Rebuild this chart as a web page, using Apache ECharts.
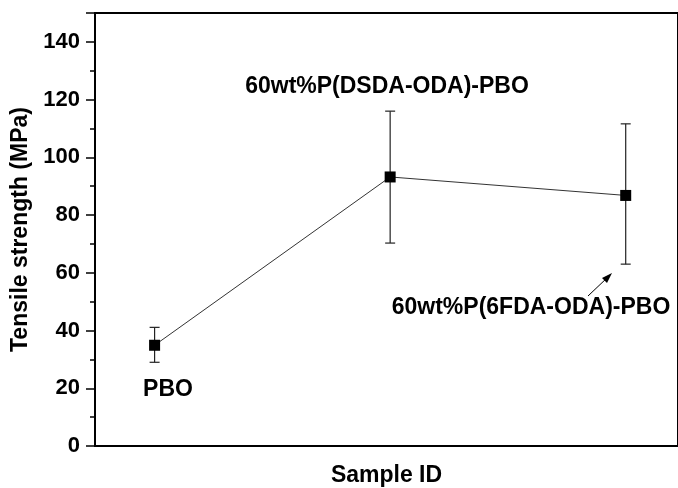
<!DOCTYPE html>
<html>
<head>
<meta charset="utf-8">
<script src="https://cdn.jsdelivr.net/npm/echarts@6/dist/echarts.min.js"></script>
<style>html,body{margin:0;padding:0;background:#fff}#c{width:678px;height:488px}</style>
</head>
<body>
<div id="c"></div>
<script>
var categories = ['PBO', '60wt%P(DSDA-ODA)-PBO', '60wt%P(6FDA-ODA)-PBO'];
var xPos = [1, 2, 3];
var strength = [34.9, 93.2, 86.8];
var errLow = [29.0, 70.3, 63.0];
var errHigh = [41.1, 116.0, 111.6];
var yTicks = [0, 20, 40, 60, 80, 100, 120, 140];

var FONT = 'Liberation Sans, Arial, sans-serif';
var chart = echarts.init(document.getElementById('c'));

var lineData = xPos.map(function (x, i) { return [x, strength[i]]; });
var errData = xPos.map(function (x, i) { return [x, errLow[i], errHigh[i]]; });

chart.setOption({
  animation: false,
  backgroundColor: '#fff',
  grid: { left: 95, right: 0, top: 13, bottom: 42, containLabel: false, outerBoundsMode: 'none',
          show: true, borderColor: '#000', borderWidth: 2, backgroundColor: 'transparent' },
  xAxis: {
    type: 'value', min: 0.747, max: 3.222,
    axisLine: { show: true, onZero: false, lineStyle: { color: '#000', width: 2 } },
    axisTick: { show: false }, axisLabel: { show: false }, splitLine: { show: false },
    name: 'Sample ID', nameLocation: 'middle', nameGap: 18,
    nameTextStyle: { fontFamily: FONT, fontWeight: 'bold', fontSize: 23, color: '#000' }
  },
  yAxis: {
    type: 'value', min: 0, max: 150, interval: 20,
    axisLine: { show: true, lineStyle: { color: '#000', width: 2 } },
    axisTick: { show: true, length: 9, inside: false, lineStyle: { color: '#000', width: 1.5 } },
    minorTick: { show: true, splitNumber: 2, length: 5, lineStyle: { color: '#000', width: 1.5 } },
    axisLabel: { fontFamily: FONT, fontWeight: 'bold', fontSize: 22, color: '#000', margin: 15,
                 formatter: function (v) { return yTicks.indexOf(v) >= 0 ? String(v) : ''; } },
    splitLine: { show: false },
    name: 'Tensile strength (MPa)', nameLocation: 'middle', nameGap: 55, nameRotate: 90,
    nameTextStyle: { fontFamily: FONT, fontWeight: 'bold', fontSize: 23, color: '#000' }
  },
  series: [
    {
      type: 'line', data: lineData, symbol: 'rect', symbolSize: 11,
      itemStyle: { color: '#000' }, lineStyle: { color: '#333', width: 1 }, z: 3
    },
    {
      type: 'custom', data: errData, z: 2,
      renderItem: function (params, api) {
        var x = api.value(0);
        var lo = api.coord([x, api.value(1)]);
        var hi = api.coord([x, api.value(2)]);
        var hw = 5;
        var st = { stroke: '#222', lineWidth: 1.2 };
        return { type: 'group', children: [
          { type: 'line', shape: { x1: lo[0], y1: lo[1], x2: hi[0], y2: hi[1] }, style: st },
          { type: 'line', shape: { x1: lo[0] - hw, y1: lo[1], x2: lo[0] + hw, y2: lo[1] }, style: st },
          { type: 'line', shape: { x1: hi[0] - hw, y1: hi[1], x2: hi[0] + hw, y2: hi[1] }, style: st }
        ] };
      }
    }
  ],
  graphic: [
    { type: 'text', x: 387, y: 87, style: { text: categories[1], fontFamily: FONT, fontWeight: 'bold', fontSize: 23, fill: '#000', align: 'center', verticalAlign: 'middle' } },
    { type: 'text', x: 168, y: 390, style: { text: categories[0], fontFamily: FONT, fontWeight: 'bold', fontSize: 23, fill: '#000', align: 'center', verticalAlign: 'middle' } },
    { type: 'text', x: 531, y: 308, style: { text: categories[2], fontFamily: FONT, fontWeight: 'bold', fontSize: 23, fill: '#000', align: 'center', verticalAlign: 'middle' } },
    { type: 'line', shape: { x1: 588, y1: 296, x2: 608, y2: 277 }, style: { stroke: '#000', lineWidth: 1 } },
    { type: 'polygon', shape: { points: [[612, 273], [602, 278], [607, 283]] }, style: { fill: '#000' } }
  ]
});
</script>
</body>
</html>
